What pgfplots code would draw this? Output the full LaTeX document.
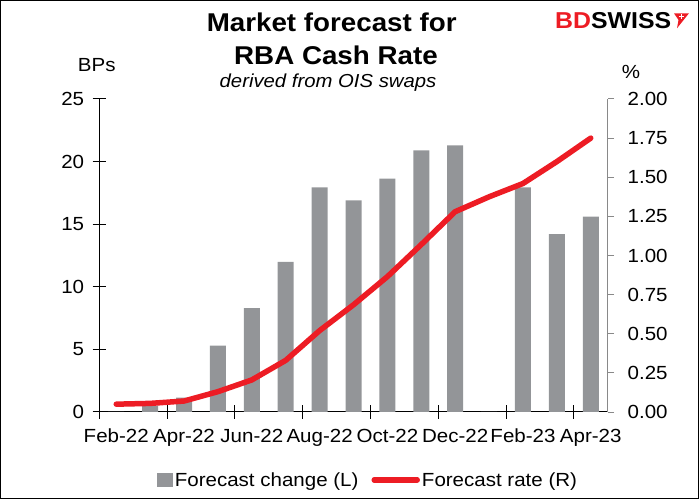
\documentclass[border=0pt]{standalone}
\usepackage{pgfplots}
\pgfplotsset{compat=1.18}
\usepackage{fontspec}
\setmainfont{Liberation Sans}[FakeStretch=1.08]
\definecolor{bargrey}{RGB}{147,149,152}
\definecolor{rred}{RGB}{237,28,36}
\definecolor{axgrey}{RGB}{137,137,137}
\begin{document}
\begin{tikzpicture}
\path[use as bounding box] (0bp,0bp) rectangle (699bp,499bp);
\draw[line width=1bp] (0.5bp,0.5bp) rectangle (698.5bp,498.5bp);
\begin{axis}[
  at={(99.3bp,87bp)}, anchor=south west, scale only axis,
  width=508.4bp, height=313bp,
  xmin=-0.5, xmax=14.5, ymin=0, ymax=25,
  axis x line*=bottom, axis y line*=left,
  axis line style={line width=1bp, -},
  xtick={0,2,...,14},
  xticklabels={Feb-22,Apr-22,Jun-22,Aug-22,Oct-22,Dec-22,Feb-23,Apr-23},
  major x tick style={draw=none},
  minor xtick={-0.5,1.5,...,13.5},
  ytick={0,5,...,25},
  tick align=center, major tick length=13.4bp, minor tick length=13.4bp,
  tick style={black, line width=1bp},
  ticklabel style={font=\fontsize{19bp}{22bp}\selectfont},
  yticklabel style={xshift=-5bp},
  xticklabel style={yshift=-7bp},
  /pgf/number format/assume math mode=true,
  clip=false,
]
\addplot[ybar, bar width=16bp, fill=bargrey, draw=none] coordinates {
 (0,0) (1,0.5) (2,1.15) (3,5.3) (4,8.3) (5,12.0) (6,17.95) (7,16.9)
 (8,18.65) (9,20.9) (10,21.3) (11,0) (12,17.95) (13,14.2) (14,15.6)};
\end{axis}
\begin{axis}[
  at={(99.3bp,87bp)}, anchor=south west, scale only axis,
  width=508.4bp, height=313bp,
  xmin=-0.5, xmax=14.5, ymin=0, ymax=2,
  axis y line*=right, axis x line=none,
  axis line style={axgrey, line width=1bp, -},
  ytick={0,0.25,0.5,0.75,1,1.25,1.5,1.75,2},
  /pgf/number format/fixed, /pgf/number format/fixed zerofill,
  /pgf/number format/precision=2,
  tick align=outside, major tick length=6.5bp,
  tick style={axgrey, line width=1bp},
  ticklabel style={font=\fontsize{19bp}{22bp}\selectfont},
  yticklabel style={xshift=10bp},
  /pgf/number format/assume math mode=true,
  clip=false,
  legend style={at={(0.529,-0.217)}, anchor=center, draw=none, fill=none,
    font=\fontsize{19bp}{22bp}\selectfont, legend columns=2,
    /tikz/every even column/.append style={column sep=11bp}},
  legend cell align=left,
]
\addlegendimage{legend image code/.code={\fill[bargrey] (0bp,-6.5bp) rectangle (15bp,6.5bp);}}
\addlegendentry{Forecast change (L)}
\addplot[rred, line width=5.5bp, line join=round, line cap=round,
  legend image code/.code={\draw[rred,line width=5.5bp,line cap=round] (1bp,0bp) -- (44bp,0bp);}]
  coordinates {
 (0,0.05) (1,0.055) (2,0.07) (3,0.13) (4,0.205) (5,0.33) (6,0.52) (7,0.685)
 (8,0.865) (9,1.07) (10,1.28) (11,1.375) (12,1.46) (13,1.60) (14,1.75)};
\addlegendentry{Forecast rate (R)}
\end{axis}
\node[anchor=base, font=\bfseries\fontsize{25.7bp}{30bp}\selectfont] at (331.7bp,467.3bp) {Market forecast for};
\node[anchor=base, font=\bfseries\fontsize{25.7bp}{30bp}\selectfont] at (336bp,434bp) {RBA Cash Rate};
\node[anchor=base, font=\itshape\fontsize{18.8bp}{22bp}\selectfont] at (328bp,411bp) {derived from OIS swaps};
\node[anchor=base, font=\fontsize{19bp}{22bp}\selectfont] at (96.7bp,427.3bp) {BPs};
\node[anchor=base, font=\fontsize{19bp}{22bp}\selectfont] at (631bp,420.7bp) {\%};
\node[anchor=base west, inner sep=0pt, font=\bfseries\fontsize{23bp}{26bp}\selectfont] at (555bp,470.7bp) {\textcolor{rred}{BD}SWISS};
\fill[rred] (674bp,485.7bp) -- (689bp,485.7bp) -- (677bp,470.7bp) -- (678.5bp,479bp) -- cycle;
\draw[white, line width=1.2bp] (679bp,482.3bp) -- (684bp,482.3bp) (681.5bp,480bp) -- (681.5bp,484.6bp);
\end{tikzpicture}
\end{document}
